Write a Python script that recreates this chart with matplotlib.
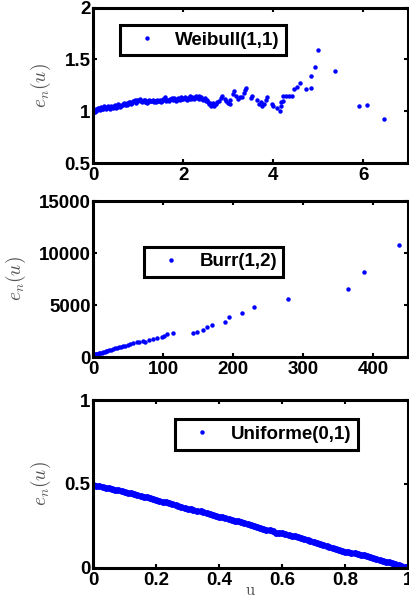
import matplotlib
matplotlib.use("Agg")
import matplotlib.pyplot as plt

plt.rcParams['font.family'] = ['Liberation Sans', 'DejaVu Sans']
plt.rcParams['font.weight'] = 'bold'
plt.rcParams['font.size'] = 13.5
plt.rcParams['mathtext.fontset'] = 'cm'

# ------------------------------------------------------
# Data
# ------------------------------------------------------
weibull_u = [0.00, 0.02, 0.04, 0.06, 0.09, 0.12, 0.15, 0.18, 0.22, 0.26, 0.30, 0.34, 0.38,
             0.42, 0.46, 0.50, 0.54, 0.58, 0.62, 0.66, 0.70, 0.74, 0.78, 0.82, 0.86, 0.90,
             0.94, 0.98, 1.02, 1.06, 1.10, 1.14, 1.18, 1.22, 1.26, 1.30, 1.34, 1.38, 1.42,
             1.46, 1.50, 1.54, 1.58, 1.60, 1.62, 1.66, 1.70, 1.74, 1.78, 1.82, 1.86, 1.90,
             1.94, 1.98, 2.02, 2.06, 2.10, 2.14, 2.18, 2.22, 2.26, 2.30, 2.34, 2.38, 2.42,
             2.46, 2.50, 2.53, 2.56, 2.60, 2.64, 2.68, 2.72, 2.75, 2.80, 2.84, 2.87, 2.92,
             2.96, 3.00, 3.04, 3.05, 3.10, 3.13, 3.18, 3.22, 3.27, 3.31, 3.35, 3.38, 3.39,
             3.50, 3.54, 3.63, 3.68, 3.72, 3.76, 3.80, 3.83, 3.86, 3.98, 4.00, 4.08, 4.15,
             4.17, 4.17, 4.22, 4.22, 4.28, 4.35, 4.43, 4.46, 4.52, 4.60, 4.74, 4.85, 4.85,
             4.93, 4.99, 5.37, 5.90, 6.09, 6.46,
             # second pass over the dense band
             0.01, 0.05, 0.08, 0.11, 0.14, 0.20, 0.24, 0.28, 0.32, 0.36, 0.40, 0.44, 0.48,
             0.52, 0.56, 0.60, 0.64, 0.68, 0.72, 0.76, 0.80, 0.84, 0.88, 0.92, 0.96, 1.00,
             1.04, 1.08, 1.12, 1.16, 1.20, 1.24, 1.28, 1.32, 1.36, 1.40, 1.44, 1.48, 1.52,
             1.56, 1.64, 1.68, 1.72, 1.76, 1.80, 1.84, 1.88, 1.92, 1.96, 2.00, 2.04, 2.08,
             2.12, 2.16, 2.20, 2.24, 2.28, 2.32, 2.36, 2.40, 2.44, 2.48, 2.58, 2.62, 2.66]
weibull_e = [1.00, 1.01, 0.99, 1.02, 1.01, 1.03, 1.02, 1.04, 1.02, 1.04, 1.03, 1.04, 1.02,
             1.04, 1.05, 1.03, 1.05, 1.06, 1.05, 1.07, 1.06, 1.08, 1.07, 1.09, 1.08, 1.10,
             1.09, 1.11, 1.11, 1.10, 1.10, 1.09, 1.10, 1.09, 1.10, 1.10, 1.09, 1.10, 1.11,
             1.10, 1.09, 1.11, 1.12, 1.14, 1.10, 1.11, 1.12, 1.13, 1.11, 1.12, 1.11, 1.12,
             1.13, 1.12, 1.13, 1.12, 1.13, 1.14, 1.12, 1.13, 1.14, 1.13, 1.15, 1.13, 1.12,
             1.12, 1.10, 1.11, 1.09, 1.08, 1.06, 1.05, 1.07, 1.09, 1.10, 1.13, 1.15, 1.12,
             1.10, 1.08, 1.07, 1.11, 1.17, 1.19, 1.15, 1.12, 1.14, 1.14, 1.18, 1.20, 1.22,
             1.13, 1.15, 1.11, 1.07, 1.09, 1.05, 1.07, 1.11, 1.14, 1.07, 1.05, 1.03, 1.00,
             1.05, 1.09, 1.10, 1.15, 1.15, 1.15, 1.15, 1.21, 1.23, 1.27, 1.21, 1.22, 1.34,
             1.43, 1.59, 1.39, 1.05, 1.06, 0.92,
             0.99, 1.00, 1.02, 1.03, 1.01, 1.02, 1.05, 1.02, 1.05, 1.04, 1.05, 1.03, 1.06,
             1.04, 1.07, 1.04, 1.06, 1.08, 1.07, 1.06, 1.09, 1.07, 1.10, 1.11, 1.08, 1.10,
             1.12, 1.09, 1.11, 1.11, 1.08, 1.11, 1.10, 1.11, 1.10, 1.09, 1.10, 1.11, 1.10,
             1.12, 1.11, 1.10, 1.12, 1.12, 1.13, 1.10, 1.13, 1.11, 1.14, 1.12, 1.14, 1.11,
             1.12, 1.15, 1.14, 1.12, 1.15, 1.14, 1.12, 1.14, 1.11, 1.13, 1.07, 1.05, 1.08]

burr_u = [0, 1, 2, 3, 4, 5, 6, 8, 10, 12, 14, 16, 18, 20, 22, 25, 28, 31, 34, 37, 40, 43,
          46, 50, 53, 57, 62, 66, 71, 74, 80, 86, 91, 98, 101, 105, 114, 143, 148, 157, 163,
          169, 188, 194, 212, 230, 279, 364, 387, 437]
burr_e = [190, 200, 230, 250, 270, 300, 310, 350, 400, 430, 480, 510, 560, 600, 640, 700,
          760, 820, 870, 930, 1000, 1040, 1100, 1170, 1230, 1320, 1400, 1440, 1530, 1470,
          1620, 1700, 1860, 1950, 2050, 2180, 2280, 2300, 2440, 2600, 2900, 3100, 3400,
          3800, 4200, 4800, 5550, 6540, 8140, 10770]

unif_u = [0.000, 0.009, 0.018, 0.030, 0.041, 0.050, 0.060, 0.070, 0.079, 0.090, 0.102,
          0.111, 0.121, 0.130, 0.139, 0.150, 0.161, 0.170, 0.180, 0.190, 0.199, 0.210,
          0.221, 0.231, 0.240, 0.251, 0.262, 0.270, 0.279, 0.290, 0.300, 0.309, 0.318,
          0.330, 0.341, 0.350, 0.360, 0.370, 0.381, 0.390, 0.399, 0.410, 0.420, 0.430,
          0.441, 0.450, 0.459, 0.470, 0.480, 0.490, 0.501, 0.510, 0.519, 0.530, 0.540,
          0.550, 0.561, 0.570, 0.580, 0.590, 0.599, 0.610, 0.621, 0.630, 0.640, 0.650,
          0.659, 0.670, 0.681, 0.690, 0.700, 0.710, 0.719, 0.730, 0.741, 0.750, 0.760,
          0.770, 0.780, 0.790, 0.801, 0.810, 0.819, 0.830, 0.840, 0.850, 0.861, 0.870,
          0.880, 0.890, 0.899, 0.910, 0.921, 0.930, 0.940, 0.950, 0.960, 0.970, 0.979,
          0.989, 0.998]
unif_e = [0.493, 0.490, 0.487, 0.483, 0.478, 0.474, 0.470, 0.466, 0.462, 0.457, 0.452,
          0.448, 0.444, 0.440, 0.436, 0.430, 0.424, 0.419, 0.414, 0.409, 0.404, 0.399,
          0.394, 0.390, 0.385, 0.378, 0.372, 0.367, 0.362, 0.357, 0.352, 0.349, 0.345,
          0.340, 0.336, 0.331, 0.325, 0.320, 0.314, 0.309, 0.304, 0.300, 0.295, 0.290,
          0.285, 0.281, 0.276, 0.270, 0.265, 0.259, 0.252, 0.248, 0.244, 0.238, 0.232,
          0.227, 0.222, 0.216, 0.210, 0.207, 0.205, 0.201, 0.197, 0.192, 0.188, 0.184,
          0.180, 0.174, 0.168, 0.161, 0.154, 0.147, 0.140, 0.134, 0.128, 0.123, 0.118,
          0.112, 0.106, 0.101, 0.096, 0.092, 0.089, 0.085, 0.081, 0.077, 0.073, 0.069,
          0.064, 0.059, 0.053, 0.048, 0.043, 0.037, 0.032, 0.026, 0.021, 0.016, 0.011,
          0.006, 0.002]

panels = [
    dict(u=weibull_u, e=weibull_e, label='Weibull(1,1)', xlim=(0, 7), ylim=(0.5, 2),
         xticks=[0, 2, 4, 6], xlabels=['0', '2', '4', '6'],
         yticks=[0.5, 1, 1.5, 2], ylabels=['0.5', '1', '1.5', '2'],
         pos=[0.2276, 0.7283, 0.7676, 0.2592], leg=(0.085, 0.887), ms=3.2),
    dict(u=burr_u, e=burr_e, label='Burr(1,2)', xlim=(0, 450), ylim=(0, 15000),
         xticks=[0, 100, 200, 300, 400], xlabels=['0', '100', '200', '300', '400'],
         yticks=[0, 5000, 10000, 15000], ylabels=['0', '5000', '10000', '15000'],
         pos=[0.2276, 0.405, 0.7676, 0.26], leg=(0.161, 0.707), ms=3.2),
    dict(u=unif_u, e=unif_e, label='Uniforme(0,1)', xlim=(0, 1), ylim=(0, 1),
         xticks=[0, 0.2, 0.4, 0.6, 0.8, 1], xlabels=['0', '0.2', '0.4', '0.6', '0.8', '1'],
         yticks=[0, 0.5, 1], ylabels=['0', '0.5', '1'],
         pos=[0.2276, 0.0538, 0.7676, 0.2795], leg=(0.26, 0.885), ms=5.0),
]

fig = plt.figure(figsize=(4.1, 6.0), dpi=100)

for p in panels:
    ax = fig.add_axes(p['pos'])
    ax.plot(p['u'], p['e'], 'o', color='#0000ff', ms=p['ms'], mew=0, label=p['label'])
    ax.set_xlim(p['xlim'])
    ax.set_ylim(p['ylim'])
    ax.set_xticks(p['xticks'])
    ax.set_xticklabels(p['xlabels'])
    ax.set_yticks(p['yticks'])
    ax.set_yticklabels(p['ylabels'])
    ax.tick_params(direction='in', length=3, width=1.5, top=True, right=True,
                   pad=3, labelsize=13.5)
    ax.tick_params(axis='y', pad=2)
    for s in ax.spines.values():
        s.set_linewidth(2.2)
    ax.set_ylabel(r'$e_n(u)$', fontsize=14, color='#555555', labelpad=8)
    leg = ax.legend(loc='upper left', bbox_to_anchor=p['leg'], borderaxespad=0,
                    fancybox=False, framealpha=1, edgecolor='black',
                    borderpad=0.35, handlelength=2.2, handletextpad=0.4,
                    markerscale=3.2 / p['ms'], prop={'weight': 'bold', 'size': 13.5})
    leg.get_frame().set_linewidth(2.2)

ax.set_xlabel(r'$\mathrm{u}$', fontsize=12, color='#555555', labelpad=-4)

fig.savefig('out.png', dpi=100)
